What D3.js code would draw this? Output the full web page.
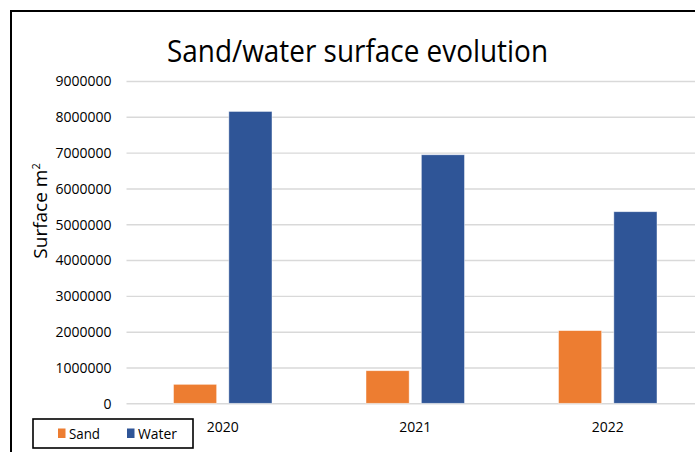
<!DOCTYPE html>
<meta charset="utf-8">
<style>
html, body { margin: 0; background: #fff; overflow: hidden; }
svg { display: block; }
text { font-family: "Open Sans", sans-serif; fill: #000; }
.grid line { stroke: #d9d9d9; stroke-width: 1.4px; }
</style>
<body>
<script src="https://d3js.org/d3.v7.min.js"></script>
<script>

// data
const years = ["2020", "2021", "2022"];
const seriesNames = ["Sand", "Water"];
const sand = [530000, 910000, 2030000];
const water = [8150000, 6940000, 5350000];
const yTicks = [0, 1000000, 2000000, 3000000, 4000000, 5000000, 6000000, 7000000, 8000000, 9000000];

const colors = { Sand: "#ED7D31", Water: "#2F5597" };

const W = 695, H = 452;
const plot = { left: 126.5, right: 704, top: 81, bottom: 403.3 };

const svg = d3.select("body").append("svg")
    .attr("width", W)
    .attr("height", H);

// outer chart frame (cropped on the right and bottom)
svg.append("path")
    .attr("d", "M11,452V11H695")
    .attr("fill", "none")
    .attr("stroke", "#000")
    .attr("stroke-width", 2);

// scales
const x = d3.scaleBand().domain(years).range([plot.left, plot.right]);
const xInner = d3.scaleBand().domain(seriesNames)
    .range([47, 145.5])
    .paddingInner(0.22);
const y = d3.scaleLinear().domain([0, 9000000]).range([plot.bottom, plot.top]);

// grid + y labels
const yAxis = svg.append("g")
    .attr("class", "grid")
    .attr("transform", `translate(${plot.left},0)`)
    .call(d3.axisLeft(y)
        .tickValues(yTicks)
        .tickSizeInner(-(W - plot.left))
        .tickSizeOuter(0)
        .tickPadding(15)
        .tickFormat(d3.format("d")))
    .call(g => g.select(".domain").remove());
yAxis.selectAll("text")
    .style("font-size", "15px")
    .attr("textLength", d => 8 * String(d).length)
    .attr("lengthAdjust", "spacingAndGlyphs");

// bars
const rows = years.map((yr, i) => ({ year: yr, Sand: sand[i], Water: water[i] }));

const groups = svg.append("g").selectAll("g")
    .data(rows)
    .join("g")
    .attr("transform", d => `translate(${x(d.year)},0)`);

groups.selectAll("rect")
    .data(d => seriesNames.map(k => ({ key: k, value: d[k] })))
    .join("rect")
    .attr("x", d => xInner(d.key))
    .attr("width", xInner.bandwidth())
    .attr("y", d => y(d.value))
    .attr("height", d => y(0) - y(d.value))
    .attr("fill", d => colors[d.key])
    .attr("stroke", "#fff")
    .attr("stroke-opacity", 0.6)
    .attr("stroke-width", 0.75);

// x labels
const xAxis = svg.append("g")
    .attr("transform", `translate(0,${plot.bottom})`)
    .call(d3.axisBottom(x).tickSize(0));
xAxis.select(".domain").remove();
xAxis.selectAll("text")
    .attr("y", 29)
    .attr("dy", 0)
    .style("font-size", "15px")
    .attr("textLength", 32)
    .attr("lengthAdjust", "spacingAndGlyphs");

// title
svg.append("text")
    .attr("x", 357.5)
    .attr("y", 62)
    .attr("text-anchor", "middle")
    .style("font-size", "31px")
    .attr("textLength", 381)
    .attr("lengthAdjust", "spacingAndGlyphs")
    .text("Sand/water surface evolution");

// y axis title
const yTitle = svg.append("text")
    .attr("transform", "translate(47,211) rotate(-90)")
    .attr("text-anchor", "middle")
    .style("font-size", "19px");
yTitle.append("tspan").text("Surface m");
yTitle.append("tspan")
    .attr("baseline-shift", "super")
    .style("font-size", "11px")
    .text("2");

// legend
const legend = svg.append("g");
legend.append("rect")
    .attr("x", 33).attr("y", 419)
    .attr("width", 160).attr("height", 29)
    .attr("fill", "#fff")
    .attr("stroke", "#000")
    .attr("stroke-width", 1.6);

const legendX = { Sand: 58, Water: 127 };
seriesNames.forEach(k => {
  legend.append("rect")
      .attr("x", legendX[k]).attr("y", 428.5)
      .attr("width", 7.5).attr("height", 9.5)
      .attr("fill", colors[k]);
  legend.append("text")
      .attr("x", legendX[k] + 11)
      .attr("y", 438.5)
      .style("font-size", "15px")
      .attr("textLength", k === "Sand" ? 31 : 39)
      .attr("lengthAdjust", "spacingAndGlyphs")
      .text(k);
});

</script>
</body>
